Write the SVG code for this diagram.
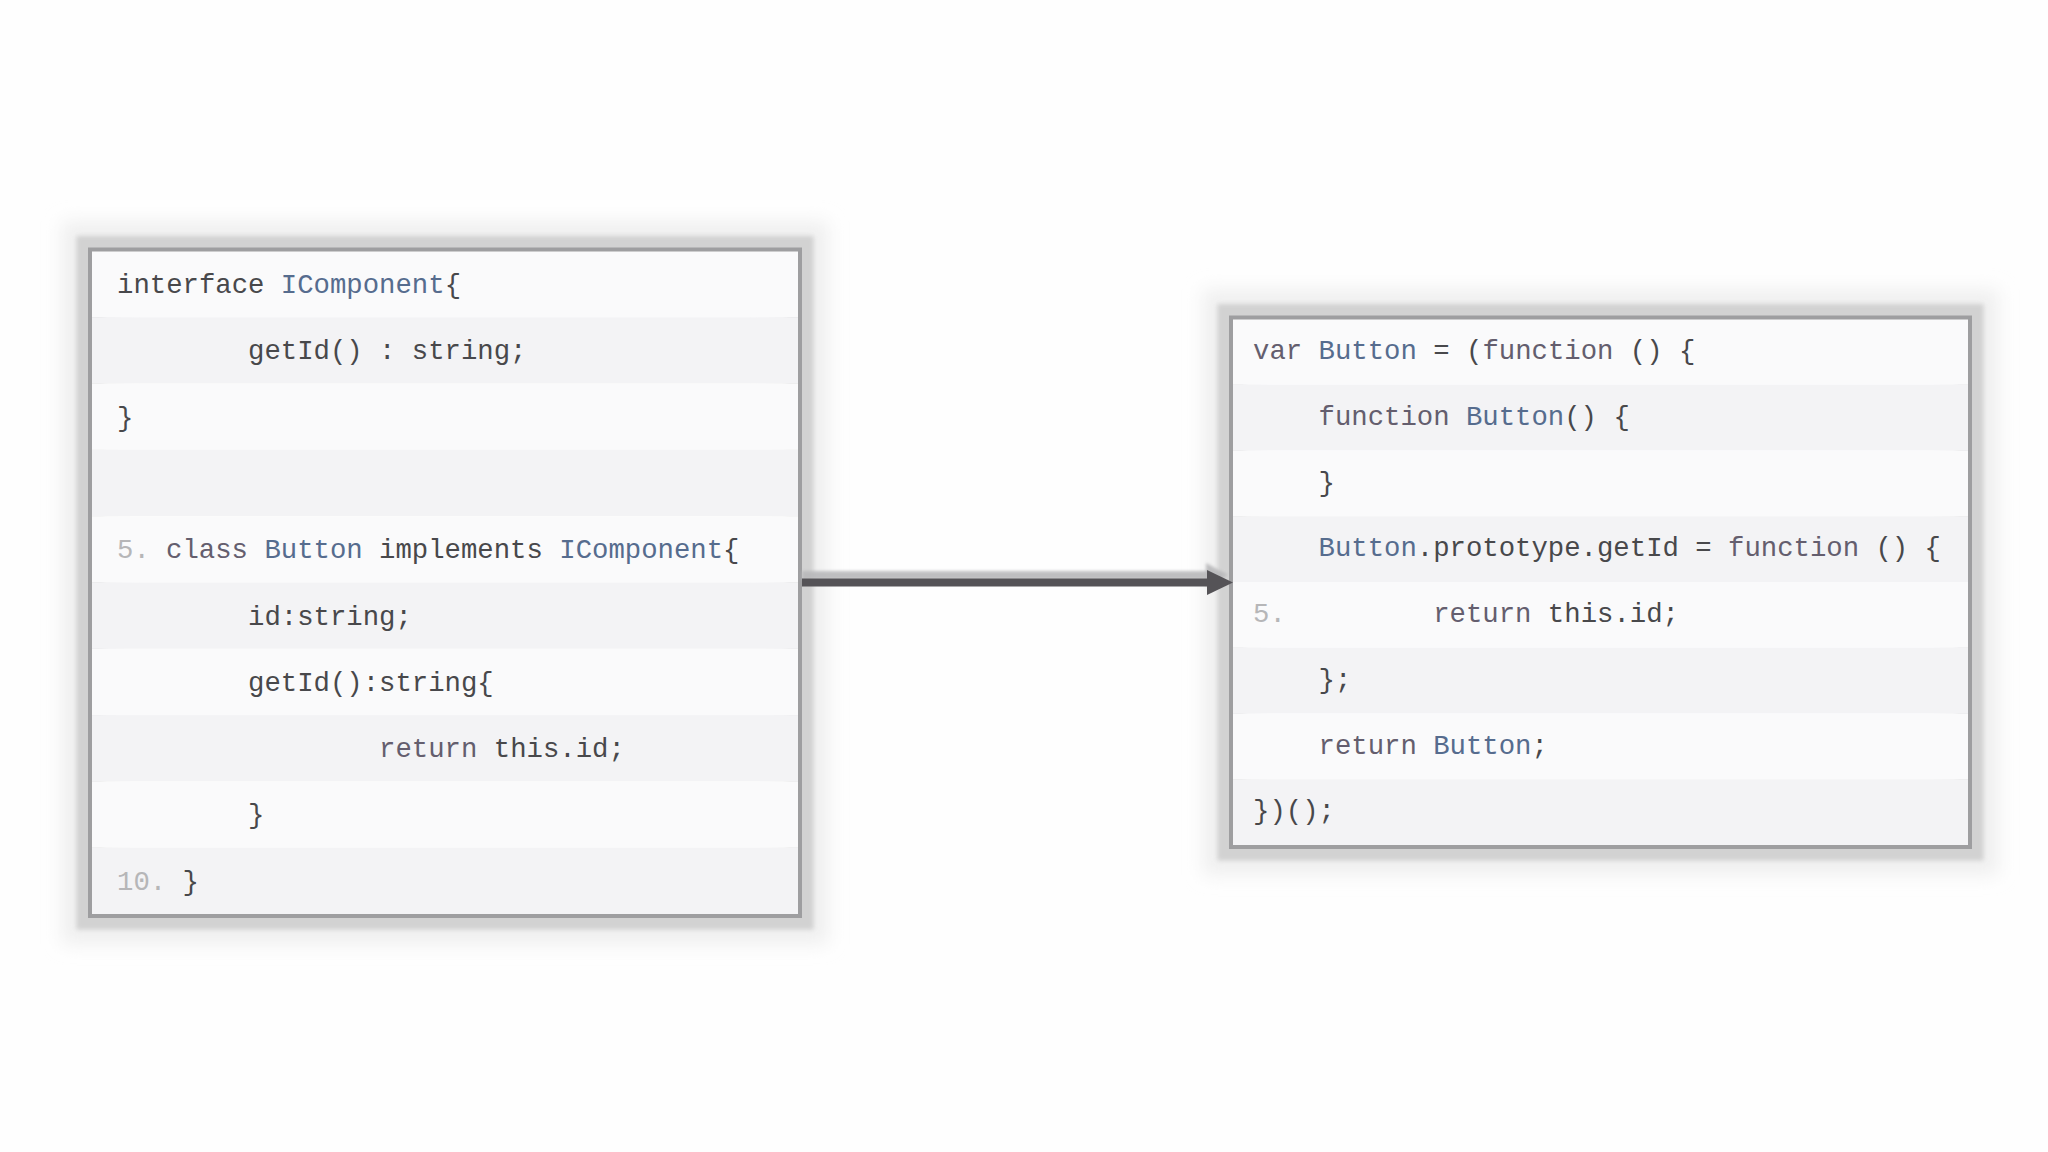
<svg xmlns="http://www.w3.org/2000/svg" width="2048" height="1152" viewBox="0 0 2048 1152">
  <style>
    .code { font-family: "Liberation Mono", "DejaVu Sans Mono", monospace; font-size: 27.3px; fill: #48484b; }
    .kw { fill: #645e6e; }
    .id { fill: #566c8e; }
    .ln { fill: #b6b6b8; }
    .rw { fill: #fafafb; }
    .rg { fill: #f3f3f5; }
    .halo { fill: none; stroke: #d2d2d2; stroke-width: 27; }
    .halo2 { fill: none; stroke: #efefef; stroke-width: 56; }
    .border { fill: none; stroke: #9e9ea0; stroke-width: 4; }
  </style>
  <defs>
    <filter id="blurS" x="-10%" y="-10%" width="120%" height="120%">
      <feGaussianBlur stdDeviation="2.2"/>
    </filter>
    <filter id="blurL" x="-10%" y="-10%" width="120%" height="120%">
      <feGaussianBlur stdDeviation="9"/>
    </filter>
    <filter id="blurA" x="-5%" y="-50%" width="110%" height="200%">
      <feGaussianBlur stdDeviation="1.5"/>
    </filter>
  </defs>
  <rect x="0" y="0" width="2048" height="1152" fill="#fefefe"/>

  <g id="node-typescript">
    <rect class="halo2" x="90" y="249.5" width="710" height="666.5" filter="url(#blurL)"/>
    <rect class="halo" x="90" y="249.5" width="710" height="666.5" filter="url(#blurS)"/>
    <rect class="rw" x="92" y="251" width="706" height="66.3"/>
    <rect class="rg" x="92" y="317.3" width="706" height="66.3"/>
    <rect class="rw" x="92" y="383.6" width="706" height="66.3"/>
    <rect class="rg" x="92" y="449.9" width="706" height="66.3"/>
    <rect class="rw" x="92" y="516.2" width="706" height="66.3"/>
    <rect class="rg" x="92" y="582.5" width="706" height="66.3"/>
    <rect class="rw" x="92" y="648.8" width="706" height="66.3"/>
    <rect class="rg" x="92" y="715.1" width="706" height="66.3"/>
    <rect class="rw" x="92" y="781.4" width="706" height="66.3"/>
    <rect class="rg" x="92" y="847.7" width="706" height="66.3"/>
    <rect class="border" x="90" y="249.5" width="710" height="666.5"/>
    <text class="code" xml:space="preserve" x="117" y="293">interface <tspan class="id">IComponent</tspan>{</text>
    <text class="code" xml:space="preserve" x="248" y="359.3">getId() : string;</text>
    <text class="code" xml:space="preserve" x="117" y="425.6">}</text>
    <text class="code ln" x="117" y="558.2">5.</text>
    <text class="code" xml:space="preserve" x="166.1" y="558.2"><tspan class="kw">class</tspan> <tspan class="id">Button</tspan> implements <tspan class="id">IComponent</tspan>{</text>
    <text class="code" xml:space="preserve" x="248" y="624.5">id:string;</text>
    <text class="code" xml:space="preserve" x="248" y="690.8">getId():string{</text>
    <text class="code" xml:space="preserve" x="379.1" y="757.1"><tspan class="kw">return</tspan> this.id;</text>
    <text class="code" xml:space="preserve" x="248" y="823.4">}</text>
    <text class="code ln" x="117" y="889.7">10.</text>
    <text class="code" xml:space="preserve" x="182.5" y="889.7">}</text>
  </g>

  <g id="node-javascript">
    <rect class="halo2" x="1231" y="317.5" width="739" height="529.5" filter="url(#blurL)"/>
    <rect class="halo" x="1231" y="317.5" width="739" height="529.5" filter="url(#blurS)"/>
    <rect class="rw" x="1233" y="319" width="735" height="65.75"/>
    <rect class="rg" x="1233" y="384.75" width="735" height="65.75"/>
    <rect class="rw" x="1233" y="450.5" width="735" height="65.75"/>
    <rect class="rg" x="1233" y="516.25" width="735" height="65.75"/>
    <rect class="rw" x="1233" y="582" width="735" height="65.75"/>
    <rect class="rg" x="1233" y="647.75" width="735" height="65.75"/>
    <rect class="rw" x="1233" y="713.5" width="735" height="65.75"/>
    <rect class="rg" x="1233" y="779.25" width="735" height="65.75"/>
    <rect class="border" x="1231" y="317.5" width="739" height="529.5"/>
    <text class="code" xml:space="preserve" x="1253" y="359"><tspan class="kw">var</tspan> <tspan class="id">Button</tspan> = (<tspan class="kw">function</tspan> () {</text>
    <text class="code" xml:space="preserve" x="1318.5" y="424.75"><tspan class="kw">function</tspan> <tspan class="id">Button</tspan>() {</text>
    <text class="code" xml:space="preserve" x="1318.5" y="490.5">}</text>
    <text class="code" xml:space="preserve" x="1318.5" y="556.25"><tspan class="id">Button</tspan>.prototype.getId = <tspan class="kw">function</tspan> () {</text>
    <text class="code ln" x="1253" y="622">5.</text>
    <text class="code" xml:space="preserve" x="1433.2" y="622"><tspan class="kw">return</tspan> this.id;</text>
    <text class="code" xml:space="preserve" x="1318.5" y="687.75">};</text>
    <text class="code" xml:space="preserve" x="1318.5" y="753.5"><tspan class="kw">return</tspan> <tspan class="id">Button</tspan>;</text>
    <text class="code" xml:space="preserve" x="1253" y="819.25">})();</text>
  </g>

  <g id="connectors">
    <g filter="url(#blurA)" fill="#b8b8ba" opacity="0.9">
      <rect x="802" y="571" width="404" height="9"/>
      <polygon points="1206,563 1228,575 1206,587"/>
    </g>
    <rect x="802" y="578.5" width="408" height="8" fill="#555357"/>
    <polygon points="1207,570 1233,582.5 1207,595" fill="#555357"/>
  </g>
</svg>
